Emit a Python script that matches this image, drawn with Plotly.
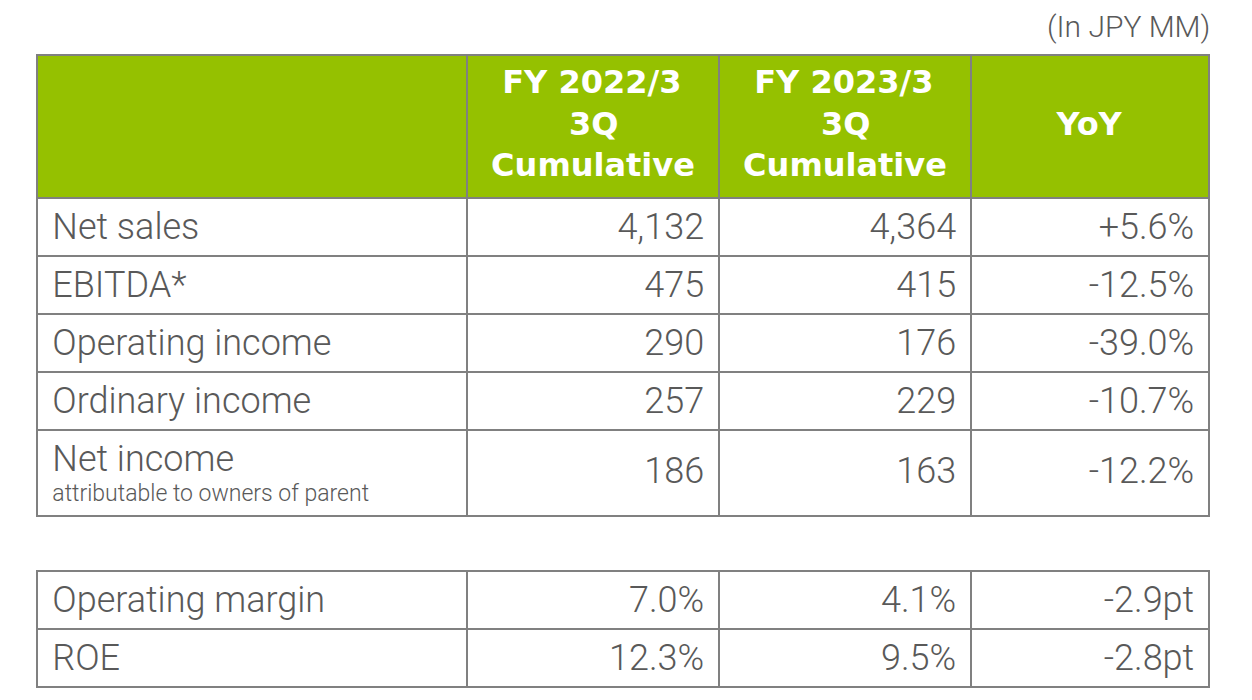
import plotly.graph_objects as go

# ---- data ----
metrics = ["Net sales", "EBITDA*", "Operating income", "Ordinary income", "Net income"]
metric_notes = ["", "", "", "", "attributable to owners of parent"]
fy2022_3q = [4132, 475, 290, 257, 186]
fy2023_3q = [4364, 415, 176, 229, 163]
yoy_pct = [5.6, -12.5, -39.0, -10.7, -12.2]

ratio_metrics = ["Operating margin", "ROE"]
ratio_2022 = [7.0, 12.3]
ratio_2023 = [4.1, 9.5]
ratio_yoy_pt = [-2.9, -2.8]

header_lines = [[], ["FY 2022/3", "3Q", "Cumulative"], ["FY 2023/3", "3Q", "Cumulative"], ["", "YoY"]]
unit_label = "(In JPY MM)"

# ---- styling ----
W, H = 1252, 700
GREEN = "#95C100"
BORDER = "#808080"
TEXT = "#595959"
BODY_FONT = "Roboto"
HEAD_FONT = "DejaVu Sans"
NB = "\u00a0"
OFF = 8  # plotly table draws 8px right/down of its domain

def big(s):
    return "<span style='font-size:36px'>" + s + "</span>"

def pad(px):
    return "<span style='font-size:%dpx'>" % px + NB + "</span>"

def label_cell(name, note):
    s = pad(30) + big(name)
    if note:
        s += "<br>" + pad(30) + "<span style='font-size:23px'>" + note + "</span>"
    else:
        s += "<br>"  # explicit break: stops the table from word-wrapping
    return s

def value_cell(txt, tall):
    s = big(txt) + pad(28)
    return (NB + "<br>" + s) if tall else (s + "<br>")

# centre each header line by padding with non-breaking spaces
pads = {"FY 2022/3": 1, "FY 2023/3": 1, "3Q": 7, "Cumulative": 0, "YoY": 0, "": 0}
def header_cell(lines):
    return "<br>".join((NB * pads[l] + l) if l else NB for l in lines) if lines else ""

tall = [bool(n) for n in metric_notes]
col1 = [label_cell(m, n) for m, n in zip(metrics, metric_notes)]
col2 = [value_cell(f"{v:,}", t) for v, t in zip(fy2022_3q, tall)]
col3 = [value_cell(f"{v:,}", t) for v, t in zip(fy2023_3q, tall)]
col4 = [value_cell(f"{v:+.1f}%", t) for v, t in zip(yoy_pct, tall)]

widths = [430, 252, 252, 238]
x0, x1 = 37, 1209
dom_x = [(x0 - OFF) / W, (x1 - OFF) / W]

body_font = dict(family=BODY_FONT, size=[23, 20, 20, 20], color=TEXT, weight=300)
aligns = ["left", "right", "right", "right"]

fig = go.Figure()
fig.add_trace(go.Table(
    domain=dict(x=dom_x, y=[0.22, 1 - (55 - OFF) / H]),
    columnwidth=widths,
    header=dict(
        values=[header_cell(h) for h in header_lines],
        fill_color=GREEN,
        line=dict(color=BORDER, width=2),
        align="center",
        font=dict(family=HEAD_FONT, size=32, color="white", weight="bold"),
        height=143,
    ),
    cells=dict(
        values=[col1, col2, col3, col4],
        fill_color="white",
        line=dict(color=BORDER, width=2),
        align=aligns,
        font=body_font,
        height=58,
    ),
))

r1 = [label_cell(m, "") for m in ratio_metrics]
r2 = [value_cell(f"{v:.1f}%", False) for v in ratio_2022]
r3 = [value_cell(f"{v:.1f}%", False) for v in ratio_2023]
r4 = [value_cell(f"{v:.1f}pt", False) for v in ratio_yoy_pt]

fig.add_trace(go.Table(
    domain=dict(x=dom_x, y=[0.0, 1 - (571 - OFF) / H]),
    columnwidth=widths,
    header=dict(values=[r1[0], r2[0], r3[0], r4[0]],
                fill_color="white",
                line=dict(color=BORDER, width=2),
                align=aligns,
                font=body_font,
                height=57),
    cells=dict(
        values=[r1[1:], r2[1:], r3[1:], r4[1:]],
        fill_color="white",
        line=dict(color=BORDER, width=2),
        align=aligns,
        font=body_font,
        height=57,
    ),
))

fig.add_annotation(
    text=unit_label, xref="paper", yref="paper",
    x=1203 / W, y=1.0, xanchor="right", yanchor="top",
    showarrow=False, borderpad=0,
    font=dict(family=BODY_FONT, size=30, color=TEXT, weight=300),
)

fig.update_layout(
    width=W, height=H,
    margin=dict(l=0, r=0, t=0, b=0),
    paper_bgcolor="white",
    plot_bgcolor="white",
)

fig.write_html("out.html")
